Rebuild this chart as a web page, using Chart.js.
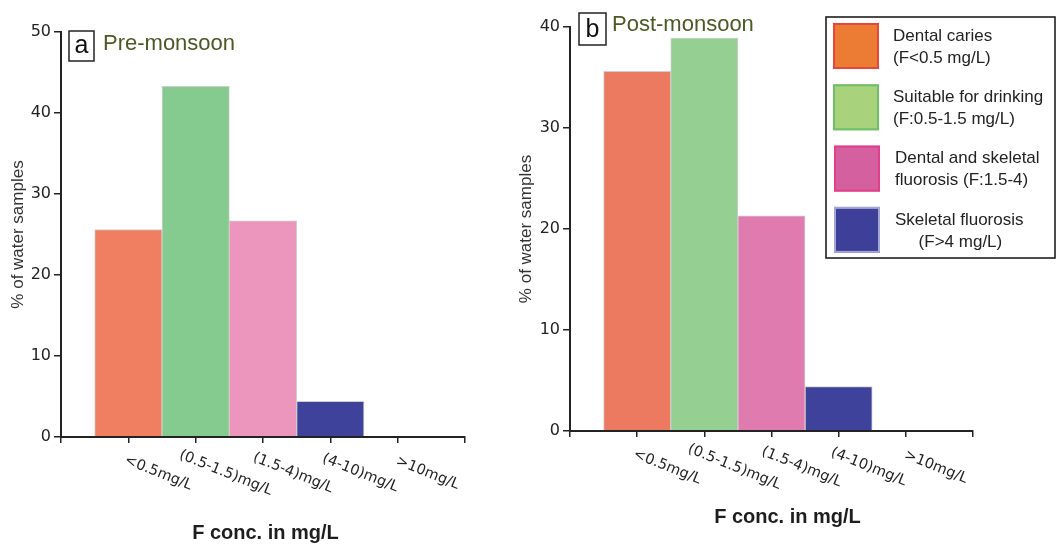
<!DOCTYPE html>
<html>
<head>
<meta charset="utf-8">
<script src="https://cdn.jsdelivr.net/npm/chart.js@4.4.1/dist/chart.umd.min.js"></script>
<style>
  html, body { margin: 0; padding: 0; background: #fff; }
  #wrap { position: relative; width: 1056px; height: 544px; overflow: hidden; }
  canvas { position: absolute; top: 0; }
  #pre { left: 0; }
  #post { left: 505px; }
</style>
</head>
<body>
<div id="wrap">
  <canvas id="pre" width="520" height="544"></canvas>
  <canvas id="post" width="551" height="544"></canvas>
</div>
<script>
const categories = ["<0.5mg/L", "(0.5-1.5)mg/L", "(1.5-4)mg/L", "(4-10)mg/L", ">10mg/L"];
const preMonsoon = [25.6, 43.3, 26.7, 4.4, 0];
const postMonsoon = [35.6, 38.9, 21.3, 4.4, 0];
const preTicks = [0, 10, 20, 30, 40, 50];
const postTicks = [0, 10, 20, 30, 40];
const preColors = ["#ef7f60", "#85ca8f", "#ec95bd", "#3f429a", "#3f429a"];
const postColors = ["#ec7a60", "#95cf92", "#e07baf", "#3f429a", "#3f429a"];
const legendLabels = [
  ["Dental caries", "(F<0.5 mg/L)"],
  ["Suitable for drinking", "(F:0.5-1.5 mg/L)"],
  ["Dental and skeletal", "fluorosis (F:1.5-4)"],
  ["Skeletal fluorosis", "     (F>4 mg/L)"]
];
const legendFill = ["#ec7b34", "#a9d27c", "#d5609f", "#3e3f98"];
const legendEdge = ["#e5483a", "#6dbf6a", "#e33d8b", "#a4a6d6"];

const INK = "#232323";

// padded with an empty slot on each side so the axis runs past the bars
const xLabels = ["", ...categories, ""];

// extra drawing: slanted category labels, x title, panel tag, legend box
const panelDecor = {
  id: "panelDecor",
  afterDraw(chart, args, o) {
    const ctx = chart.ctx;
    const area = chart.chartArea;
    const x = chart.scales.x;
    ctx.save();

    ctx.font = "14.5px 'DejaVu Sans'";
    ctx.fillStyle = INK;
    ctx.textAlign = "center";
    ctx.textBaseline = "middle";
    categories.forEach((c, i) => {
      const px = x.getPixelForTick(i + 1);
      ctx.save();
      ctx.translate(px + 30, area.bottom + 36);
      ctx.rotate(22 * Math.PI / 180);
      ctx.fillText(c, 0, 0);
      ctx.restore();
    });

    ctx.font = "bold 20px 'Liberation Sans'";
    ctx.fillStyle = "#1e1e1e";
    ctx.fillText("F conc. in mg/L", (area.left + area.right) / 2 + o.xTitleDx, area.bottom + o.xTitleDy);

    // panel tag (a / b) and season name
    const bx = area.left + o.tag.dx, by = area.top + o.tag.dy;
    ctx.lineWidth = 1.5;
    ctx.strokeStyle = INK;
    ctx.strokeRect(bx, by, o.tag.w, o.tag.h);
    ctx.font = "25px 'Liberation Sans'";
    ctx.fillStyle = "#111";
    ctx.textBaseline = "alphabetic";
    ctx.fillText(o.tag.letter, bx + o.tag.w / 2, by + o.tag.h * 0.74);
    ctx.font = "22px 'Liberation Sans'";
    ctx.fillStyle = "#4d5826";
    ctx.textAlign = "left";
    ctx.textBaseline = "middle";
    ctx.fillText(o.name, bx + o.tag.w + o.nameGap, area.top + o.nameDy);

    if (o.legend) {
      const L = o.legend;
      ctx.lineWidth = 1.5;
      ctx.strokeStyle = "#111";
      ctx.strokeRect(L.x, L.y, L.w, L.h);
      ctx.font = "17px 'Liberation Sans'";
      ctx.fillStyle = INK;
      legendLabels.forEach((lines, i) => {
        const sy = L.y + 6 + i * 61.3;
        const sx = L.x + 7 + (i > 1 ? 1 : 0);
        ctx.fillStyle = legendFill[i];
        ctx.fillRect(sx, sy, 46, 46);
        ctx.lineWidth = 2;
        ctx.strokeStyle = legendEdge[i];
        ctx.strokeRect(sx + 1, sy + 1, 44, 44);
        ctx.fillStyle = INK;
        const tx = L.x + 67 + (i > 1 ? 2 : 0);
        ctx.fillText(lines[0], tx, sy + 13);
        ctx.fillText(lines[1], tx, sy + 35);
      });
    }
    ctx.restore();
  }
};

function makePanel(canvasId, values, colors, yTicks, geom, decor) {
  return new Chart(document.getElementById(canvasId), {
    type: "bar",
    data: {
      labels: xLabels,
      datasets: [{
        data: [null, ...values, null],
        backgroundColor: [null, ...colors, null],
        borderColor: "rgba(205, 200, 200, 0.9)",
        borderWidth: 1,
        barPercentage: 1,
        categoryPercentage: 1
      }]
    },
    options: {
      responsive: false,
      animation: false,
      events: [],
      layout: { padding: { left: 0, right: geom.padRight, top: geom.padTop, bottom: 0 } },
      plugins: {
        legend: { display: false },
        tooltip: { enabled: false },
        panelDecor: decor
      },
      scales: {
        x: {
          offset: false,
          afterFit: (s) => { s.height = geom.xHeight; },
          ticks: { display: false },
          grid: { display: true, offset: false, drawOnChartArea: false, drawTicks: true, tickLength: 6, color: INK, lineWidth: 1.5, z: 1 },
          border: { display: true, color: INK, width: 2, z: 1 }
        },
        y: {
          min: 0,
          max: yTicks[yTicks.length - 1],
          afterBuildTicks: (s) => { s.ticks = yTicks.map(v => ({ value: v })); },
          afterFit: (s) => { s.width = geom.yWidth; },
          ticks: { padding: 3, color: INK, font: { family: "DejaVu Sans", size: 16 } },
          grid: { display: true, drawOnChartArea: false, drawTicks: true, tickLength: 7, color: INK, lineWidth: 1.5, z: 1 },
          border: { display: true, color: INK, width: 2, z: 1 },
          title: {
            display: true,
            text: "% of water samples",
            color: "#333",
            font: { family: "Liberation Sans", size: 17 },
            padding: { top: geom.yTitlePad, bottom: 0 }
          }
        }
      }
    },
    plugins: [panelDecor]
  });
}

makePanel("pre", preMonsoon, preColors, preTicks,
  { padRight: 55, padTop: 32, xHeight: 107, yWidth: 61, yTitlePad: 8.3 },
  { xTitleDx: 2.5, xTitleDy: 96,
    tag: { letter: "a", dx: 8, dy: -1, w: 25, h: 30 },
    name: "Pre-monsoon", nameGap: 9, nameDy: 12 });

makePanel("post", postMonsoon, postColors, postTicks,
  { padRight: 83, padTop: 27, xHeight: 113, yWidth: 65, yTitlePad: 11.3 },
  { xTitleDx: 16, xTitleDy: 86,
    tag: { letter: "b", dx: 9, dy: -14, w: 27, h: 32 },
    name: "Post-monsoon", nameGap: 6, nameDy: -2,
    legend: { x: 321, y: 17, w: 229, h: 241 } });
</script>
</body>
</html>
